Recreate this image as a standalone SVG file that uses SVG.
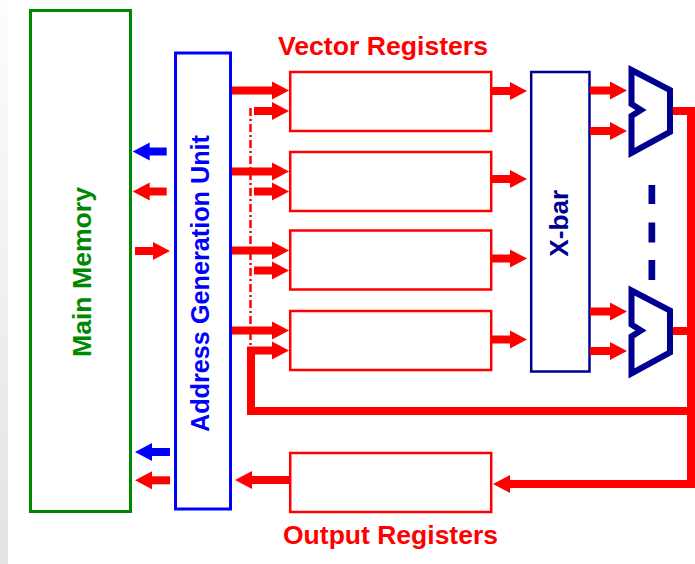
<svg xmlns="http://www.w3.org/2000/svg" width="695" height="564" viewBox="0 0 695 564">
  <style>
    .lbl { font-family: "Liberation Sans", Arial, sans-serif; font-weight: bold; }
    .red { fill: #ff0000; }
    .box { fill: #ffffff; }
    .reg { fill: #ffffff; stroke: #ff0000; stroke-width: 2.5; }
    .ar { fill: none; stroke: #ff0000; stroke-width: 8; stroke-linejoin: miter; marker-end: url(#ahr); }
    .ab { fill: none; stroke: #0000ff; stroke-width: 8; marker-end: url(#ahb); }
    .bus { fill: none; stroke: #ff0000; stroke-width: 8; stroke-linejoin: miter; }
    .mux { fill: #ffffff; stroke: #000090; stroke-width: 6; stroke-linejoin: miter; }
  </style>
  <defs>
    <linearGradient id="strip" x1="0" y1="0" x2="0" y2="1">
      <stop offset="0" stop-color="#fdfdfd"/>
      <stop offset="1" stop-color="#e3e3e3"/>
    </linearGradient>
    <marker id="ahr" markerUnits="userSpaceOnUse" markerWidth="18" markerHeight="18" refX="1" refY="9" orient="auto" overflow="visible">
      <path d="M0,0 L17,9 L0,18 z" fill="#ff0000"/>
    </marker>
    <marker id="ahb" markerUnits="userSpaceOnUse" markerWidth="18" markerHeight="18" refX="1" refY="9" orient="auto" overflow="visible">
      <path d="M0,0 L17,9 L0,18 z" fill="#0000ff"/>
    </marker>
  </defs>

  <rect x="0" y="0" width="695" height="564" fill="#ffffff"/>
  <rect x="0" y="0" width="8" height="564" fill="url(#strip)"/>

  <g id="main-memory">
    <rect x="30.5" y="10.5" width="100" height="501" fill="#ffffff" stroke="#008800" stroke-width="3"/>
    <text class="lbl" transform="translate(91,272) rotate(-90)" text-anchor="middle" font-size="26.5" fill="#008800" textLength="170" lengthAdjust="spacingAndGlyphs">Main Memory</text>
  </g>

  <g id="agu">
    <rect x="175.5" y="53" width="55" height="456" fill="#ffffff" stroke="#0000ff" stroke-width="3"/>
    <text class="lbl" transform="translate(209,283.5) rotate(-90)" text-anchor="middle" font-size="25" fill="#0000ff" textLength="297" lengthAdjust="spacingAndGlyphs">Address Generation Unit</text>
  </g>

  <g id="vector-registers">
    <text class="lbl red" x="383" y="54.5" text-anchor="middle" font-size="25" textLength="210" lengthAdjust="spacingAndGlyphs">Vector Registers</text>
    <rect class="reg" x="290.2" y="72" width="201" height="59"/>
    <rect class="reg" x="290.2" y="152" width="201" height="59"/>
    <rect class="reg" x="290.2" y="230.5" width="201" height="59"/>
    <rect class="reg" x="290.2" y="311" width="201" height="59"/>
  </g>

  <g id="output-registers">
    <rect class="reg" x="290.2" y="453" width="201" height="59"/>
    <text class="lbl red" x="390.5" y="544" text-anchor="middle" font-size="25.5" textLength="215" lengthAdjust="spacingAndGlyphs">Output Registers</text>
  </g>

  <g id="xbar">
    <rect x="531.2" y="72" width="58.3" height="299.5" fill="#ffffff" stroke="#000090" stroke-width="2.5"/>
    <text class="lbl" transform="translate(568,223.3) rotate(-90)" text-anchor="middle" font-size="26" fill="#000090" textLength="67" lengthAdjust="spacingAndGlyphs">X-bar</text>
  </g>

  <g id="mux-top">
    <path class="mux" d="M631.5,70 L670,90 L670,132 L631.5,153 L631.5,116 L641,110 L631.5,104 Z"/>
  </g>
  <g id="mux-bottom">
    <path class="mux" d="M631.5,290.5 L670,310.5 L670,352.5 L631.5,373.5 L631.5,336.5 L641,330.5 L631.5,324.5 Z"/>
  </g>
  <g id="mux-ellipsis" fill="#000090">
    <rect x="648.5" y="185" width="6.7" height="19"/>
    <rect x="648.5" y="222.5" width="6.7" height="20"/>
    <rect x="648.5" y="260" width="6.7" height="20"/>
  </g>

  <g id="connectors">
    <!-- feedback dash-dot line -->
    <line x1="250.5" y1="108" x2="250.5" y2="347" stroke="#ff0000" stroke-width="2.5" stroke-dasharray="8 3 2 3"/>

    <!-- main memory / AGU -->
    <path class="ab" d="M166.7,151.5 H148.7"/>
    <path class="ar" d="M166.7,191.5 H148.7"/>
    <path class="ar" d="M135,251 H154"/>
    <path class="ab" d="M170,452 H151"/>
    <path class="ar" d="M170,480.3 H151"/>

    <!-- AGU to vector registers -->
    <path class="ar" d="M232,90.5 H273"/>
    <path class="ar" d="M254,111 H273"/>
    <path class="ar" d="M232,171.5 H273"/>
    <path class="ar" d="M254,191.5 H273"/>
    <path class="ar" d="M232,250.5 H273"/>
    <path class="ar" d="M254,270.5 H273"/>
    <path class="ar" d="M232,330.5 H273"/>

    <!-- registers to X-bar -->
    <path class="ar" d="M492,91 H511"/>
    <path class="ar" d="M492,179 H511"/>
    <path class="ar" d="M492,258.5 H511"/>
    <path class="ar" d="M492,339.5 H511"/>

    <!-- X-bar to muxes -->
    <path class="ar" d="M590,90.5 H611"/>
    <path class="ar" d="M590,131 H611"/>
    <path class="ar" d="M590,311.5 H611"/>
    <path class="ar" d="M590,351 H611"/>

    <!-- mux outputs and feedback -->
    <path class="ar" d="M673,111 H691 V484 H509"/>
    <path class="bus" d="M673,331 H691"/>
    <path class="ar" d="M691,411 H251 V350.5 H273"/>

    <!-- output registers to AGU -->
    <path class="ar" d="M289,480 H251"/>
  </g>
</svg>
